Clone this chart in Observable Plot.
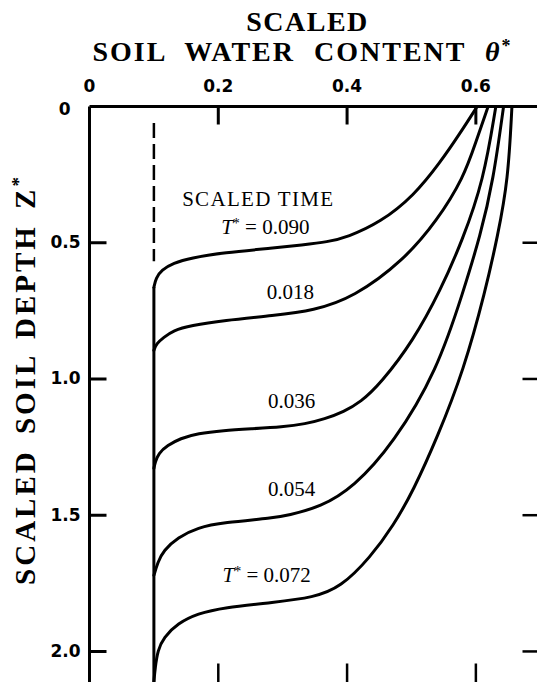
<!DOCTYPE html>
<html>
<head>
<meta charset="utf-8">
<script src="https://cdn.jsdelivr.net/npm/d3@7"></script>
<script src="https://cdn.jsdelivr.net/npm/@observablehq/plot@0.6"></script>
<style>
  html, body { margin: 0; padding: 0; background: #fff; }
  #title {
    position: relative; z-index: 2;
    width: 537px; height: 66px; box-sizing: border-box;
    padding-left: 78px; padding-top: 7px;
    font-family: "Liberation Serif", serif; font-weight: bold;
    font-size: 28px; line-height: 30px; text-align: center; color: #000;
  }
  #title .l1 { letter-spacing: 1.5px; }
  #title .l2 { letter-spacing: 2px; word-spacing: 10px; margin-left: -10px; }
  #chart { position: relative; z-index: 1; }
</style>
</head>
<body>
<div id="title"><div class="l1">SCALED</div><div class="l2">SOIL WATER CONTENT <i>θ</i><sup style="font-size:18px;vertical-align:9px;line-height:0">*</sup></div></div>
<div id="chart"></div>
<script>
// ---- axis ticks ----
const xTickValues = [0, 0.2, 0.4, 0.6];
const xTickLabels = ["0", "0.2", "0.4", "0.6"];
const yTickValues = [0.5, 1.0, 1.5, 2.0];
const yTickLabels = ["0.5", "1.0", "1.5", "2.0"];
const yZeroLabel = "0";
const xInnerTicks = [0.2, 0.4, 0.6];
const yInnerTicks = [0.5, 1.0, 1.5, 2.0];

// ---- visible extent of the scanned plot area ----
const thetaMax = 0.6957;
const depthMax = 2.114;

// ---- initial water content line ----
const initialTheta = 0.1;
const dashedDepth = [0.062, 0.57];
const solidDepthStart = 0.664;

// ---- series (scaled time T*) ----
const seriesNames = ["0.090", "0.018", "0.036", "0.054", "0.072"];

const theta090 = [0.602, 0.575, 0.545, 0.504, 0.452, 0.400, 0.370, 0.330, 0.286, 0.208, 0.157, 0.130, 0.112, 0.103, 0.100];
const depth090 = [0, 0.100, 0.204, 0.327, 0.425, 0.480, 0.497, 0.508, 0.519, 0.537, 0.556, 0.575, 0.600, 0.630, 0.664];

const theta018 = [0.619, 0.600, 0.581, 0.540, 0.488, 0.410, 0.348, 0.286, 0.208, 0.157, 0.130, 0.115, 0.104, 0.100];
const depth018 = [0, 0.130, 0.261, 0.418, 0.565, 0.701, 0.749, 0.767, 0.785, 0.804, 0.822, 0.848, 0.870, 0.895];

const theta036 = [0.631, 0.612, 0.579, 0.545, 0.503, 0.452, 0.421, 0.395, 0.365, 0.335, 0.300, 0.250, 0.208, 0.168, 0.141, 0.121, 0.107, 0.102, 0.100];
const depth036 = [0, 0.272, 0.492, 0.675, 0.859, 1.017, 1.085, 1.120, 1.147, 1.165, 1.176, 1.183, 1.189, 1.200, 1.218, 1.244, 1.273, 1.306, 1.328];

const theta054 = [0.643, 0.627, 0.607, 0.581, 0.540, 0.472, 0.410, 0.359, 0.307, 0.286, 0.208, 0.168, 0.137, 0.115, 0.106, 0.100];
const depth054 = [0, 0.272, 0.473, 0.675, 0.969, 1.237, 1.398, 1.470, 1.501, 1.510, 1.527, 1.545, 1.582, 1.629, 1.673, 1.721];

const theta072 = [0.656, 0.650, 0.634, 0.615, 0.581, 0.540, 0.503, 0.472, 0.436, 0.390, 0.348, 0.286, 0.208, 0.168, 0.137, 0.115, 0.106, 0.102, 0.100];
const depth072 = [0, 0.272, 0.473, 0.675, 0.969, 1.215, 1.409, 1.538, 1.655, 1.765, 1.802, 1.820, 1.839, 1.861, 1.897, 1.949, 1.996, 2.059, 2.110];

// ---- annotations ----
const annotationText  = ["SCALED TIME", "T* = 0.090", "0.018", "0.036", "0.054", "T* = 0.072"];
const annotationTheta = [0.262, 0.273, 0.312, 0.314, 0.314, 0.275];
const annotationDepth = [0.341, 0.444, 0.683, 1.083, 1.405, 1.721];

const yTitle = "SCALED SOIL DEPTH Z*";

// ---- build tables ----
const thetas = [theta090, theta018, theta036, theta054, theta072];
const depths = [depth090, depth018, depth036, depth054, depth072];
const curves = [];
seriesNames.forEach((name, s) => {
  thetas[s].forEach((t, i) => curves.push({series: name, theta: t, depth: depths[s][i]}));
});
const annotations = annotationText.map((text, i) => ({text, theta: annotationTheta[i], depth: annotationDepth[i]}));

const lbl = (vals, labs) => d => labs[vals.indexOf(d)];
const tickFont = "'DejaVu Sans', sans-serif";
const serif = "'Liberation Serif', serif";

const W = 537, H = 616, MT = 40, ML = 89;
const frameW = W - ML, frameH = H - MT;
// tick lengths in pixels, converted to data units through the frame size
const tickTopLen = 18 * depthMax / frameH;
const tickBottomLen = 19 * depthMax / frameH;
const tickLeftLen = 17 * thetaMax / frameW;
const tickRightLen = 15 * thetaMax / frameW;

// frame edges (top and left) traced as polylines that dip in at each tick
const topEdge = [{theta: 0, depth: 0}];
xInnerTicks.forEach(t => topEdge.push({theta: t, depth: 0}, {theta: t, depth: tickTopLen}, {theta: t, depth: 0}));
topEdge.push({theta: thetaMax, depth: 0});
const leftEdge = [{theta: 0, depth: 0}];
yInnerTicks.forEach(d => leftEdge.push({theta: 0, depth: d}, {theta: tickLeftLen, depth: d}, {theta: 0, depth: d}));
leftEdge.push({theta: 0, depth: depthMax});
const frameEdges = [...topEdge.map(p => ({...p, edge: "top"})), ...leftEdge.map(p => ({...p, edge: "left"}))];

// inward ticks on the open (bottom and right) sides
const bottomTicks = xInnerTicks.map(t => ({theta: t, d1: depthMax - tickBottomLen, d2: depthMax}));
const rightTicks = yInnerTicks.map(d => ({depth: d, t1: thetaMax - tickRightLen, t2: thetaMax}));

const chart = Plot.plot({
  width: W,
  height: H,
  marginTop: MT,
  marginLeft: ML,
  marginRight: 0,
  marginBottom: 0,
  style: {background: "transparent", overflow: "visible", color: "#000"},
  x: {domain: [0, thetaMax]},
  y: {domain: [0, depthMax], reverse: true},
  marks: [
    // frame (top and left) with inward ticks
    Plot.line(frameEdges, {x: "theta", y: "depth", z: "edge", stroke: "#000", strokeWidth: 3, strokeLinejoin: "miter", strokeLinecap: "butt"}),
    Plot.link(bottomTicks, {x1: "theta", x2: "theta", y1: "d1", y2: "d2", stroke: "#000", strokeWidth: 2.5}),
    Plot.link(rightTicks, {y1: "depth", y2: "depth", x1: "t1", x2: "t2", stroke: "#000", strokeWidth: 2.5}),
    // tick labels
    Plot.axisX(xTickValues, {anchor: "top", tickSize: 0, tickPadding: 15, tickFormat: lbl(xTickValues, xTickLabels),
      fontSize: 17, fontWeight: "bold", fontFamily: tickFont, label: null}),
    Plot.axisY(yTickValues, {anchor: "left", tickSize: 0, tickPadding: 9, tickFormat: lbl(yTickValues, yTickLabels),
      fontSize: 17, fontWeight: "bold", fontFamily: tickFont, label: null}),
    Plot.axisY([0], {anchor: "left", tickSize: 0, tickPadding: 19, dy: 3, tickFormat: () => yZeroLabel,
      fontSize: 17, fontWeight: "bold", fontFamily: tickFont, label: null}),
    // y title
    Plot.text([yTitle], {frameAnchor: "left", textAnchor: "middle", text: d => d, rotate: -90, dx: -64, dy: -15,
      fontSize: 29, fontWeight: "bold", fontFamily: serif, fill: "#000"}),
    // initial condition
    Plot.ruleX([initialTheta], {y1: dashedDepth[0], y2: dashedDepth[1], stroke: "#000", strokeWidth: 2.5, strokeDasharray: "15,6"}),
    Plot.ruleX([initialTheta], {y1: solidDepthStart, y2: depthMax, stroke: "#000", strokeWidth: 3}),
    // profiles
    Plot.line(curves, {x: "theta", y: "depth", z: "series", curve: "basis", stroke: "#000", strokeWidth: 3}),
    // annotations
    Plot.text(annotations, {x: "theta", y: "depth", text: "text", fontSize: 21, fontFamily: serif, fill: "#000"})
  ]
});
document.getElementById("chart").appendChild(chart);

// typographic touches: italic T with superscript star, superscript star on Z
const ns = "http://www.w3.org/2000/svg";
chart.querySelectorAll("text").forEach(t => {
  const s = t.textContent;
  if (s === "SCALED TIME") {
    t.setAttribute("style", "letter-spacing:1.3px");
  } else if (s.startsWith("T* = ")) {
    t.textContent = "";
    const a = document.createElementNS(ns, "tspan"); a.textContent = "T"; a.setAttribute("font-style", "italic");
    const b = document.createElementNS(ns, "tspan"); b.textContent = "*"; b.setAttribute("font-size", "14"); b.setAttribute("dy", "-6");
    const c = document.createElementNS(ns, "tspan"); c.textContent = " = " + s.slice(5); c.setAttribute("dy", "6");
    t.append(a, b, c);
  } else if (s === yTitle) {
    t.textContent = "";
    t.setAttribute("style", "word-spacing:5px;letter-spacing:3px");
    const a = document.createElementNS(ns, "tspan"); a.textContent = s.slice(0, -1);
    const b = document.createElementNS(ns, "tspan"); b.textContent = "*"; b.setAttribute("font-size", "19"); b.setAttribute("dy", "-10");
    t.append(a, b);
  }
});
</script>
</body>
</html>
